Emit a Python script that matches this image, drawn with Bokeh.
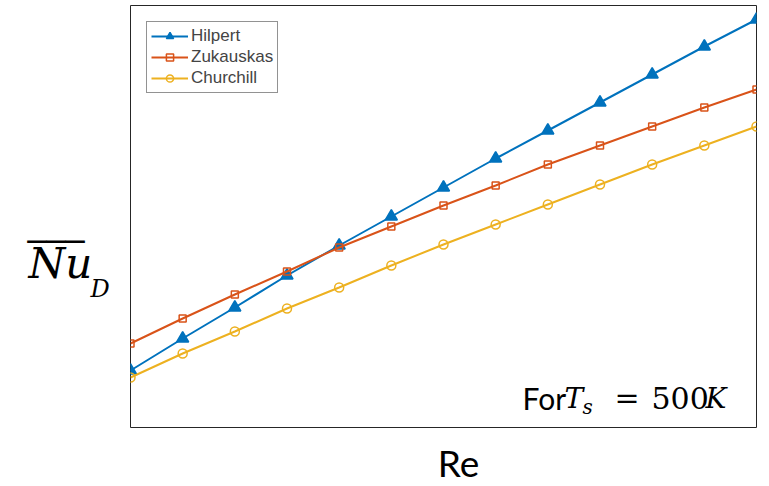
from bokeh.plotting import figure
from bokeh.models import Range1d, Label, Legend, LegendItem
from bokeh.layouts import row, column
from bokeh.embed import file_html
from bokeh.resources import INLINE

# Data (arbitrary units; no ticks shown)
re_idx = [1, 2, 3, 4, 5, 6, 7, 8, 9, 10, 11, 12, 13]
hilpert = [57, 89, 120, 152, 182, 211, 240, 269, 297, 325, 353, 381, 408]
zukauskas = [84, 109, 133, 156, 180, 201, 222, 242, 263, 282, 301, 320, 338]
churchill = [50, 74, 96, 119, 140, 162, 183, 203, 223, 243, 263, 282, 301]
series_names = ["Hilpert", "Zukauskas", "Churchill"]

BLUE = "#0072BD"
ORANGE = "#D95319"
YELLOW = "#EDB120"
serif = "DejaVu Serif"


def blank(w, h):
    f = figure(width=w, height=h, output_backend="svg", toolbar_location=None,
               x_range=Range1d(0, 1), y_range=Range1d(0, 1))
    f.min_border = 0
    f.axis.visible = False
    f.grid.visible = False
    f.outline_line_color = None
    return f


def lab(fig, x, y, text, font, size, style="normal", align="left"):
    fig.add_layout(Label(x=x, y=y, x_units="screen", y_units="screen", text=text,
                         text_font=font, text_font_size=size, text_font_style=style,
                         text_align=align, text_baseline="alphabetic",
                         text_color="black"))


# Main plot
p = figure(width=639, height=428, output_backend="svg", toolbar_location=None,
           x_range=Range1d(1, 13), y_range=Range1d(0, 422))
p.min_border_left = 1
p.min_border_right = 12
p.min_border_top = 5
p.min_border_bottom = 1
p.xaxis.visible = False
p.yaxis.visible = False
p.xgrid.visible = False
p.ygrid.visible = False
p.outline_line_color = "#262626"
p.outline_line_width = 1

l1 = p.line(re_idx, hilpert, line_color=BLUE, line_width=2)
m1 = p.scatter(re_idx, hilpert, marker="triangle", size=12, line_color=BLUE,
               fill_color=BLUE, line_width=1.5)
l2 = p.line(re_idx, zukauskas, line_color=ORANGE, line_width=2)
m2 = p.scatter(re_idx, zukauskas, marker="square", size=7, line_color=ORANGE,
               fill_color="white", fill_alpha=0, line_width=1.5)
l3 = p.line(re_idx, churchill, line_color=YELLOW, line_width=2)
m3 = p.scatter(re_idx, churchill, marker="circle", size=9, line_color=YELLOW,
               fill_color="white", fill_alpha=0, line_width=1.5)

legend = Legend(items=[
    LegendItem(label=series_names[0], renderers=[l1, m1]),
    LegendItem(label=series_names[1], renderers=[l2, m2]),
    LegendItem(label=series_names[2], renderers=[l3, m3]),
], location="top_left")
legend.label_text_font = "Liberation Sans"
legend.label_text_font_size = "17px"
legend.glyph_width = 37
legend.glyph_height = 18
legend.label_height = 18
legend.spacing = 1
legend.padding = 4
legend.margin = 16
legend.label_standoff = 3
legend.border_line_color = "#262626"
legend.border_line_width = 1
p.add_layout(legend, "center")

# Annotation "For T_s = 500K" (screen units relative to the plot frame)
lab(p, 392, 30, "For", "Lato", "30px")
lab(p, 434, 29, "T", serif, "28px", "italic")
lab(p, 452, 21, "s", serif, "20px", "italic")
lab(p, 484, 30, "=", serif, "30px")
lab(p, 521, 30, "500", serif, "30px")
lab(p, 575, 29, "K", serif, "28px", "italic")

# Left panel: y label, overlined Nu with subscript D
left = blank(129, 428)
lab(left, 28, 164, "Nu", serif, "42px", "italic")
lab(left, 27, 172, "\u203e\u203e\u203e", "DejaVu Sans", "38px")
lab(left, 90, 139, "D", serif, "24px", "italic")

# Bottom panel: x label
bottom = blank(769, 58)
lab(bottom, 458, 24, "Re", "Lato", "37px", align="center")

layout = column(row(left, p, spacing=0), bottom, spacing=0)
open("out.html", "w").write(file_html(layout, INLINE))
